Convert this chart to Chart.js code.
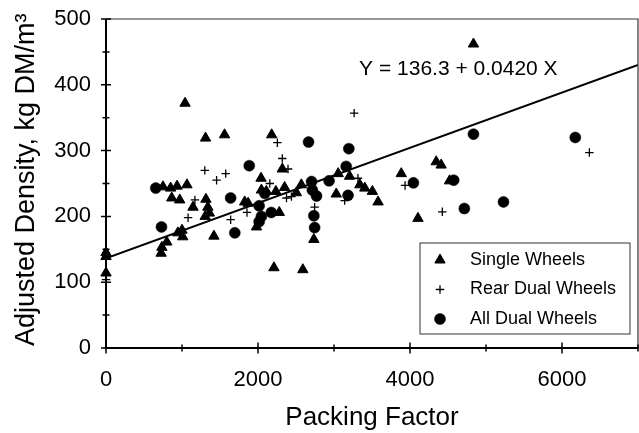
<!DOCTYPE html>
<html>
<head>
<meta charset="utf-8">
<script src="https://cdn.jsdelivr.net/npm/chart.js@4.4.0/dist/chart.umd.min.js"></script>
<style>
  html, body { margin: 0; padding: 0; background: #fff; }
  #wrap { width: 639px; height: 433px; }
</style>
</head>
<body>
<div id="wrap"><canvas id="densityChart" width="639" height="433"></canvas></div>
<script>
// Datos (x = packing factor, y = densidad ajustada)
const singleWheels = [
  {x: 0, y: 145}, {x: 0, y: 139}, {x: 0, y: 114},
  {x: 725, y: 144}, {x: 735, y: 153}, {x: 800, y: 161},
  {x: 750, y: 245}, {x: 850, y: 243}, {x: 935, y: 246}, {x: 1065, y: 248},
  {x: 865, y: 228}, {x: 970, y: 225}, {x: 1145, y: 214},
  {x: 945, y: 175}, {x: 1000, y: 179}, {x: 1010, y: 169},
  {x: 1040, y: 372}, {x: 1310, y: 319}, {x: 1560, y: 324}, {x: 2180, y: 324},
  {x: 1315, y: 226}, {x: 1340, y: 214}, {x: 1360, y: 205}, {x: 1305, y: 200},
  {x: 1420, y: 170}, {x: 1825, y: 222}, {x: 1870, y: 220}, {x: 1980, y: 184},
  {x: 2040, y: 258}, {x: 2045, y: 240}, {x: 2110, y: 238}, {x: 2235, y: 238},
  {x: 2350, y: 244}, {x: 2505, y: 236}, {x: 2570, y: 248}, {x: 2320, y: 272},
  {x: 2280, y: 206}, {x: 2210, y: 122}, {x: 2590, y: 119}, {x: 2735, y: 165},
  {x: 3030, y: 234}, {x: 3055, y: 265}, {x: 3205, y: 261},
  {x: 3340, y: 248}, {x: 3405, y: 243}, {x: 3505, y: 238}, {x: 3580, y: 222},
  {x: 3885, y: 265}, {x: 4105, y: 197}, {x: 4345, y: 283}, {x: 4410, y: 278},
  {x: 4520, y: 254}, {x: 4835, y: 462}
];
const rearDualWheels = [
  {x: 0, y: 104}, {x: 1080, y: 198}, {x: 1170, y: 225}, {x: 1300, y: 270},
  {x: 1455, y: 255}, {x: 1575, y: 265}, {x: 1640, y: 195}, {x: 1855, y: 206},
  {x: 2155, y: 250}, {x: 2255, y: 312}, {x: 2320, y: 288}, {x: 2395, y: 272},
  {x: 2375, y: 228}, {x: 2440, y: 230}, {x: 2745, y: 214}, {x: 3140, y: 224},
  {x: 3265, y: 357}, {x: 3315, y: 258}, {x: 3935, y: 247}, {x: 4425, y: 207},
  {x: 6360, y: 297}
];
const allDualWheels = [
  {x: 655, y: 243}, {x: 730, y: 184}, {x: 1640, y: 228}, {x: 1695, y: 175},
  {x: 1885, y: 277}, {x: 2015, y: 216}, {x: 2090, y: 235}, {x: 2175, y: 206},
  {x: 2045, y: 200}, {x: 2015, y: 192}, {x: 2665, y: 313}, {x: 2705, y: 253},
  {x: 2715, y: 240}, {x: 2770, y: 231}, {x: 2735, y: 201}, {x: 2745, y: 183},
  {x: 2935, y: 254}, {x: 3160, y: 276}, {x: 3195, y: 303}, {x: 3185, y: 232},
  {x: 4045, y: 251}, {x: 4575, y: 255}, {x: 4715, y: 212}, {x: 4835, y: 325},
  {x: 5230, y: 222}, {x: 6175, y: 320}
];
const seriesNames = ['Single Wheels', 'Rear Dual Wheels', 'All Dual Wheels'];
const fitIntercept = 136.3;
const fitSlope = 0.0420;
const fitLabel = 'Y = 136.3 + 0.0420 X';
const xTicks = [0, 2000, 4000, 6000];
const yTicks = [0, 100, 200, 300, 400, 500];
const xMax = 7000;
const yMax = 500;

const fontFamily = '"Liberation Sans", Arial, Helvetica, sans-serif';
Chart.defaults.font.family = fontFamily;
Chart.defaults.color = '#000';

// marco, ejes y marcas de los ticks (cruzan el eje)
const axisMarks = {
  id: 'axisMarks',
  afterDatasetsDraw(chart) {
    const {ctx, chartArea: a, scales: {x, y}} = chart;
    ctx.save();
    ctx.strokeStyle = '#333';
    ctx.lineWidth = 1.2;
    ctx.beginPath();
    ctx.moveTo(a.left, a.top);
    ctx.lineTo(a.right, a.top);
    ctx.lineTo(a.right, a.bottom);
    ctx.stroke();

    ctx.strokeStyle = '#000';
    ctx.lineWidth = 2;
    ctx.beginPath();
    ctx.moveTo(a.left, a.top);
    ctx.lineTo(a.left, a.bottom);
    ctx.lineTo(a.right, a.bottom);
    ctx.stroke();

    ctx.lineWidth = 1.5;
    ctx.beginPath();
    for (let v = 0; v <= yMax; v += 50) {
      const py = y.getPixelForValue(v);
      const h = v % 100 === 0 ? 5 : 3.5;
      ctx.moveTo(a.left - h, py);
      ctx.lineTo(a.left + h, py);
    }
    for (let v = 0; v <= xMax; v += 1000) {
      const px = x.getPixelForValue(v);
      const h = v % 2000 === 0 ? 5.5 : 3.5;
      ctx.moveTo(px, a.bottom - h);
      ctx.lineTo(px, a.bottom + h);
    }
    ctx.stroke();
    ctx.restore();
  }
};

// leyenda dentro del area y texto de la ecuacion
const insideLegend = {
  id: 'insideLegend',
  afterDraw(chart, args, opts) {
    const {ctx, scales: {x, y}} = chart;
    ctx.save();
    ctx.fillStyle = '#fff';
    ctx.fillRect(opts.left, opts.top, opts.width, opts.height);
    ctx.strokeStyle = '#333';
    ctx.lineWidth = 1;
    ctx.strokeRect(opts.left, opts.top, opts.width, opts.height);

    ctx.font = opts.fontSize + 'px ' + fontFamily;
    ctx.textBaseline = 'middle';
    ctx.textAlign = 'left';
    chart.data.datasets.slice(0, 3).forEach((ds, i) => {
      const cy = opts.top + opts.firstRow + i * opts.rowGap;
      ctx.fillStyle = '#000';
      ctx.strokeStyle = '#000';
      ctx.lineWidth = ds.pointBorderWidth;
      Chart.helpers.drawPoint(ctx, {
        pointStyle: ds.pointStyle, radius: ds.pointRadius, rotation: 0, borderWidth: ds.pointBorderWidth
      }, opts.left + opts.markerX, cy);
      ctx.fillStyle = '#000';
      ctx.fillText(ds.label, opts.left + opts.textX, cy);
    });

    ctx.font = opts.eqSize + 'px ' + fontFamily;
    ctx.fillText(fitLabel, x.getPixelForValue(opts.eqX), y.getPixelForValue(opts.eqY));
    ctx.restore();
  }
};

const ctx = document.getElementById('densityChart').getContext('2d');

new Chart(ctx, {
  type: 'scatter',
  data: {
    datasets: [{
      label: seriesNames[0],
      data: singleWheels,
      pointStyle: 'triangle',
      pointRadius: 6,
      pointBorderWidth: 1,
      backgroundColor: '#000',
      borderColor: '#000',
      clip: false
    }, {
      label: seriesNames[1],
      data: rearDualWheels,
      pointStyle: 'cross',
      pointRadius: 4.2,
      pointBorderWidth: 1.3,
      backgroundColor: '#000',
      borderColor: '#000',
      clip: false
    }, {
      label: seriesNames[2],
      data: allDualWheels,
      pointStyle: 'circle',
      pointRadius: 5.5,
      pointBorderWidth: 0.5,
      backgroundColor: '#000',
      borderColor: '#000',
      clip: false
    }, {
      type: 'line',
      label: 'fit',
      data: [{x: 0, y: fitIntercept}, {x: xMax, y: fitIntercept + fitSlope * xMax}],
      borderColor: '#000',
      borderWidth: 2,
      pointRadius: 0,
      fill: false
    }]
  },
  options: {
    responsive: false,
    animation: false,
    layout: { autoPadding: false, padding: { top: 19, right: 1, left: 0, bottom: 0 } },
    scales: {
      x: {
        type: 'linear',
        min: 0,
        max: xMax,
        grid: { display: false, drawTicks: false },
        border: { display: false },
        afterBuildTicks: s => { s.ticks = xTicks.map(v => ({value: v})); },
        afterFit: s => { s.height = 85; s.paddingLeft = 0; s.paddingRight = 0; },
        ticks: { font: { size: 22 }, padding: 19, maxRotation: 0, color: '#000', callback: v => String(v) },
        title: {
          display: true,
          text: 'Packing Factor',
          font: { size: 26 },
          padding: { top: 0, bottom: 0 }
        }
      },
      y: {
        min: 0,
        max: yMax,
        grid: { display: false, drawTicks: false },
        border: { display: false },
        afterBuildTicks: s => { s.ticks = yTicks.map(v => ({value: v})); },
        afterFit: s => { s.width = 106; s.paddingTop = 0; s.paddingBottom = 0; },
        ticks: { font: { size: 22 }, padding: 15, color: '#000', callback: v => String(v) },
        title: {
          display: true,
          text: ' Adjusted Density, kg DM/m³',
          font: { size: 27 },
          padding: { top: 10, bottom: 0 }
        }
      }
    },
    plugins: {
      legend: { display: false },
      tooltip: { enabled: false },
      insideLegend: {
        left: 420, top: 243, width: 210, height: 91,
        markerX: 20, textX: 50, firstRow: 17, rowGap: 29.5, fontSize: 18,
        eqX: 3330, eqY: 424, eqSize: 21
      }
    }
  },
  plugins: [axisMarks, insideLegend]
});
</script>
</body>
</html>
